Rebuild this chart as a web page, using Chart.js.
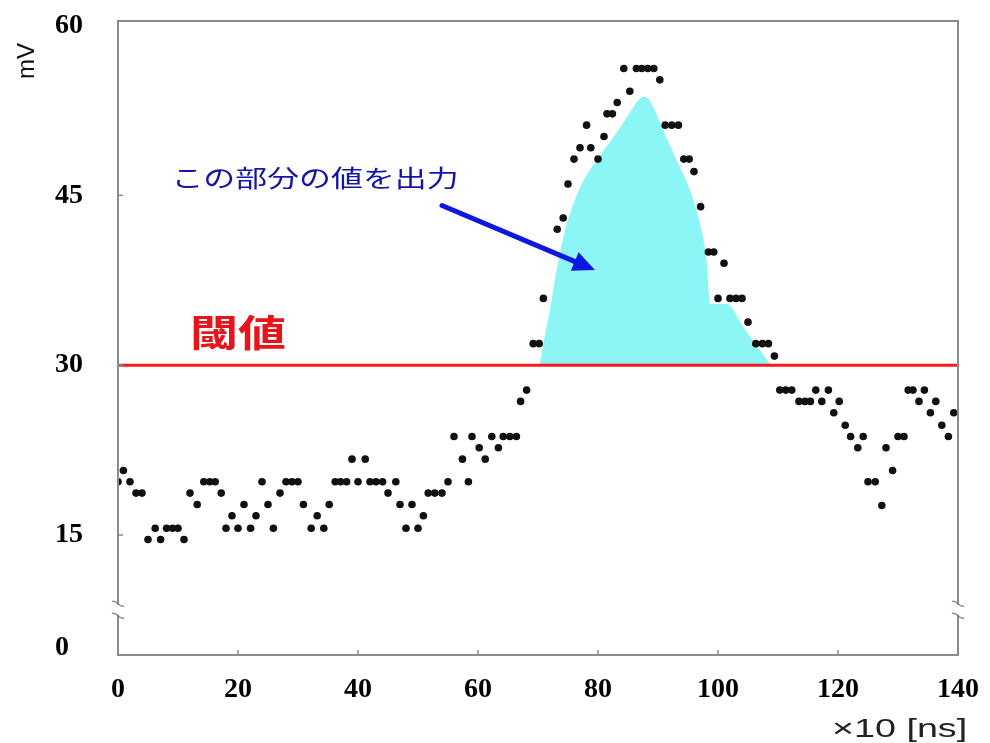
<!DOCTYPE html>
<html>
<head>
<meta charset="utf-8">
<script src="https://cdn.jsdelivr.net/npm/chart.js@4.4.1/dist/chart.umd.min.js"></script>
<style>
  body { margin: 0; background: #fff; }
  #wrap { width: 990px; height: 743px; }
</style>
</head>
<body>
<div id="wrap"><canvas id="pulseChart"></canvas></div>
<script>
const sampleTimes = [0, 0.9, 2, 3, 4, 5, 6.2, 7.1, 8.1, 9.1, 10, 11, 12, 13.2, 14.3, 15.3, 16.2, 17.2, 18, 19,
  20, 21, 22.1, 23, 24, 25, 25.9, 27, 28, 29, 30, 30.9, 32.2, 33.2, 34.3, 35.2, 36.2, 37.1, 38.1, 39,
  40, 41.2, 42, 43, 44.1, 45, 46.3, 47, 48, 49, 50, 50.9, 51.7, 52.8, 54, 55, 56, 57.4, 58.4, 59,
  60.2, 61.2, 62.3, 63.4, 64.2, 65.3, 66.4, 67.1, 68.1, 69.2, 70.2, 70.9, 73.2, 74.2, 75, 76, 77, 78.1, 78.8, 80,
  81, 81.5, 82.4, 83.2, 84.3, 85.3, 86.4, 87.3, 88.3, 89.3, 90.3, 91.2, 92.3, 93.4, 94.3, 95.2, 96, 97.1, 98.4, 99.3,
  100, 101, 102, 103, 104, 105, 106.3, 107.4, 108.4, 109.4, 110.3, 111.3, 112.3, 113.5, 114.5, 115.4, 116.3, 117.3, 118.4, 119.3,
  120.2, 121.2, 122.1, 123.3, 124.2, 125, 126.2, 127.3, 128, 129.1, 130, 131, 131.7, 132.5, 133.5, 134.4, 135.4, 136.3, 137.3, 138.4,
  139.3];
const sampleValues = [19.7, 20.7, 19.7, 18.7, 18.7, 14.6, 15.6, 14.6, 15.6, 15.6, 15.6, 14.6, 18.7, 17.7, 19.7, 19.7, 19.7, 18.7, 15.6, 16.7,
  15.6, 17.7, 15.6, 16.7, 19.7, 17.7, 15.6, 18.7, 19.7, 19.7, 19.7, 17.7, 15.6, 16.7, 15.6, 17.7, 19.7, 19.7, 19.7, 21.7,
  19.7, 21.7, 19.7, 19.7, 19.7, 18.7, 19.7, 17.7, 15.6, 17.7, 15.6, 16.7, 18.7, 18.7, 18.7, 19.7, 23.7, 21.7, 19.7, 23.7,
  22.7, 21.7, 23.7, 22.7, 23.7, 23.7, 23.7, 26.8, 27.8, 31.9, 31.9, 35.9, 42, 43, 46, 48.2, 49.2, 51.2, 49.2, 48.2,
  50.2, 52.2, 52.2, 53.2, 56.2, 54.2, 56.2, 56.2, 56.2, 56.2, 55.2, 51.2, 51.2, 51.2, 48.2, 48.2, 47.1, 44, 40, 40,
  35.9, 39, 35.9, 35.9, 35.9, 33.8, 31.9, 31.9, 31.9, 30.8, 27.8, 27.8, 27.8, 26.8, 26.8, 26.8, 27.8, 26.8, 27.8, 25.8,
  26.8, 24.7, 23.7, 22.7, 23.7, 19.7, 19.7, 17.6, 22.7, 20.7, 23.7, 23.7, 27.8, 27.8, 26.8, 27.8, 25.8, 26.8, 24.7, 23.7,
  25.8];

// Outline of the shaded part above the threshold
const areaTimes = [70.3, 71.2, 72, 72.8, 74.5, 77, 80.6, 83.7, 85.9, 86.9, 87.6, 88.4, 89.4, 90.9, 93.1, 95.3, 97, 98.1, 98.7, 101.5, 104.2, 107, 108.7];
const areaValues = [30.1, 32.8, 34.9, 37.5, 41.9, 45.7, 48.7, 51, 52.8, 53.5, 53.7, 53.5, 52.6, 50.7, 48.1, 45.5, 42.5, 39.3, 35.4, 35.4, 33.4, 31.3, 30.1];

const thresholdValue = 30;
const xRange = [0, 140];
const xTickStep = 20;
const yTickValues = [5, 15, 30, 45, 60];   // axis is broken below 15
const yTickLabels = ['0', '15', '30', '45', '60'];

const toPoints = (xs, ys) => xs.map((x, i) => ({ x: x, y: ys[i] }));

const drawText = (ctx, str, x, y, font, color, sx) => {
  ctx.save();
  ctx.translate(x, y);
  ctx.scale(sx, 1);
  ctx.font = font;
  ctx.fillStyle = color;
  ctx.textBaseline = 'alphabetic';
  ctx.fillText(str, 0, 0);
  ctx.restore();
};

// Frame, inner ticks, axis break and the annotations
const decor = {
  id: 'decor',
  afterDraw(chart) {
    const { ctx, chartArea: a, scales } = chart;
    const sx = scales.x, sy = scales.y;
    ctx.save();

    // frame
    ctx.strokeStyle = '#8a8a8a';
    ctx.lineWidth = 2;
    ctx.strokeRect(a.left, a.top, a.right - a.left, a.bottom - a.top);

    // inner tick marks
    ctx.lineWidth = 1.5;
    for (let v = xRange[0] + xTickStep; v < xRange[1]; v += xTickStep) {
      const px = sx.getPixelForValue(v);
      ctx.beginPath();
      ctx.moveTo(px, a.bottom);
      ctx.lineTo(px, a.bottom - 5);
      ctx.stroke();
    }
    [15, 30, 45].forEach((v) => {
      const py = sy.getPixelForValue(v);
      ctx.beginPath();
      ctx.moveTo(a.left, py);
      ctx.lineTo(a.left + 5, py);
      ctx.stroke();
    });

    // axis break marks
    const by = sy.getPixelForValue(8.4);
    [a.left, a.right].forEach((ax) => {
      ctx.fillStyle = '#fff';
      ctx.fillRect(ax - 2, by - 5, 4, 10);
      ctx.strokeStyle = '#8a8a8a';
      ctx.lineWidth = 1.5;
      [-6, 6].forEach((d) => {
        ctx.beginPath();
        ctx.moveTo(ax - 6, by + d - 2);
        ctx.bezierCurveTo(ax - 2, by + d - 5, ax + 2, by + d + 5, ax + 6, by + d + 2);
        ctx.stroke();
      });
    });

    // arrow
    const x0 = sx.getPixelForValue(54), y0 = sy.getPixelForValue(44.1);
    const x1 = sx.getPixelForValue(79.5), y1 = sy.getPixelForValue(38.4);
    const ang = Math.atan2(y1 - y0, x1 - x0);
    ctx.strokeStyle = '#0a18e0';
    ctx.fillStyle = '#0a18e0';
    ctx.lineWidth = 5;
    ctx.lineCap = 'round';
    ctx.beginPath();
    ctx.moveTo(x0, y0);
    ctx.lineTo(x1 - 14 * Math.cos(ang), y1 - 14 * Math.sin(ang));
    ctx.stroke();
    ctx.beginPath();
    ctx.moveTo(x1, y1);
    ctx.lineTo(x1 - 22 * Math.cos(ang) + 10 * Math.sin(ang), y1 - 22 * Math.sin(ang) - 10 * Math.cos(ang));
    ctx.lineTo(x1 - 22 * Math.cos(ang) - 10 * Math.sin(ang), y1 - 22 * Math.sin(ang) + 10 * Math.cos(ang));
    ctx.closePath();
    ctx.fill();

    // labels
    drawText(ctx, 'この部分の値を出力', sx.getPixelForValue(8.9), sy.getPixelForValue(45.7),
      '24px "Noto Sans CJK JP", sans-serif', '#1414a8', 1.33);
    drawText(ctx, '閾値', sx.getPixelForValue(12), sy.getPixelForValue(31.6),
      'bold 37px "Noto Sans CJK JP", sans-serif', '#e8141c', 1.3);
    drawText(ctx, '×10 [ns]', 832, 737, '26px "Liberation Sans", sans-serif', '#222', 1.45);

    // y unit
    ctx.save();
    ctx.translate(34, 61);
    ctx.rotate(-Math.PI / 2);
    ctx.font = '24px "Liberation Sans", sans-serif';
    ctx.fillStyle = '#111';
    ctx.textAlign = 'center';
    ctx.fillText('mV', 0, 0);
    ctx.restore();

    ctx.restore();
  },
};

const tickFont = { family: '"Liberation Serif", "DejaVu Serif", serif', size: 28, weight: 'bold' };

const ctx = document.getElementById('pulseChart').getContext('2d');
const pulseChart = new Chart(ctx, {
  type: 'scatter',
  data: {
    datasets: [
      {
        label: 'samples',
        data: toPoints(sampleTimes, sampleValues),
        backgroundColor: '#111',
        borderWidth: 0,
        pointRadius: 3.8,
        order: 1,
      },
      {
        label: 'threshold',
        data: toPoints(xRange, [thresholdValue, thresholdValue]),
        showLine: true,
        borderColor: '#ff1a1a',
        borderWidth: 3,
        pointRadius: 0,
        order: 2,
      },
      {
        label: 'area',
        data: toPoints(areaTimes, areaValues),
        showLine: true,
        cubicInterpolationMode: 'monotone',
        borderWidth: 0,
        borderColor: 'rgba(0,0,0,0)',
        backgroundColor: '#8cf6f6',
        fill: { value: thresholdValue },
        pointRadius: 0,
        order: 3,
      },
    ],
  },
  options: {
    responsive: true,
    maintainAspectRatio: false,
    animation: false,
    events: [],
    layout: {
      padding: { top: 21, right: 32, left: 55, bottom: 0 },
    },
    scales: {
      x: {
        type: 'linear',
        min: xRange[0],
        max: xRange[1],
        grid: { display: false, drawTicks: false },
        border: { display: false },
        ticks: {
          stepSize: xTickStep,
          font: tickFont,
          color: '#000',
          padding: 18,
          maxRotation: 0,
        },
        afterFit: (s) => {
          s.height = 88;
          s.paddingLeft = 0;
          s.paddingRight = 0;
        },
      },
      y: {
        min: 4.4,
        max: 60.4,
        grid: { display: false, drawTicks: false },
        border: { display: false },
        afterBuildTicks: (s) => { s.ticks = yTickValues.map((v) => ({ value: v })); },
        ticks: {
          font: tickFont,
          color: '#000',
          crossAlign: 'far',
          padding: 0,
          callback: (v) => yTickLabels[yTickValues.indexOf(v)],
        },
        afterFit: (s) => { s.width = 63; },
      },
    },
    plugins: {
      legend: { display: false },
      tooltip: { enabled: false },
    },
  },
  plugins: [decor],
});
</script>
</body>
</html>
